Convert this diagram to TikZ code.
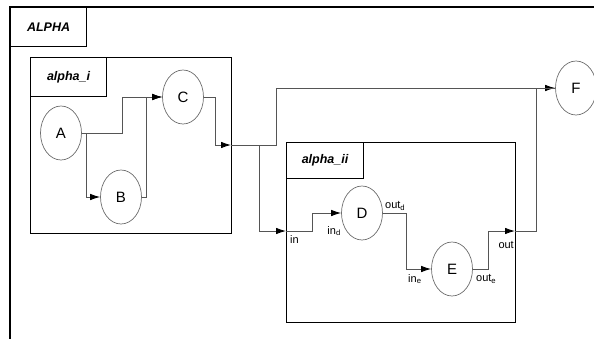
\documentclass[tikz,border=0pt]{standalone}
\usepackage{fontspec}
\setmainfont{Liberation Sans}
\usetikzlibrary{arrows.meta,positioning,calc,shapes.geometric}
\definecolor{WIRE-GREY}{RGB}{85,85,85}
\definecolor{RING-GREY}{RGB}{110,110,110}

\tikzset{
  frame/.style={draw=black, line width=1.1pt, inner sep=0pt},
  title/.style={draw=black, line width=1.1pt, anchor=north west, inner sep=0pt,
    font=\fontsize{12.5}{14}\selectfont\bfseries\itshape},
  proc/.style={ellipse, draw=RING-GREY, line width=0.7pt, fill=white,
    minimum width=41pt, minimum height=54pt, inner sep=0pt,
    font=\fontsize{15}{17}\selectfont},
  wire/.style={WIRE-GREY, line width=0.9pt},
  port/.style={font=\fontsize{11}{13}\selectfont, inner sep=0pt}
}

\begin{document}
\begin{tikzpicture}[x=1pt, y=-1pt, >={Latex[length=10pt, width=6.5pt, color=black]}]
  \useasboundingbox (0,0) rectangle (594,338);
  \clip (0,0) rectangle (594,338);

  % Outer block ALPHA (runs off the page)
  \draw[line width=1.1pt] (10,345) -- (10,7) -- (600,7);
  \node[title, minimum width=76pt, minimum height=39pt] (alphaT) at (10,7) {ALPHA};

  % Block alpha_i
  \node[frame, anchor=north west, minimum width=201pt, minimum height=176pt] (alphaI) at (30,57) {};
  \node[title, minimum width=76pt, minimum height=39pt] (alphaIT) at (alphaI.north west) {alpha\_i};
  \coordinate (iout) at (231,145);

  % Block alpha_ii
  \node[frame, anchor=north west, minimum width=229pt, minimum height=180pt] (alphaII) at (286,142) {};
  \node[title, minimum width=77pt, minimum height=36pt] (alphaIIT) at (alphaII.north west) {alpha\_ii};
  \coordinate (iiin) at (286,231);
  \coordinate (iiout) at (515,231);

  % Processes
  \node[proc] (A) at (61,133) {A};
  \node[proc] (B) at (121,197) {B};
  \node[proc] (C) at (183,97) {C};
  \node[proc] (D) at (362,213) {D};
  \node[proc] (E) at (452,269) {E};
  \node[proc] (F) at (576,88) {F};

  % Wires inside alpha_i
  \draw[wire, ->] (A.east) -- ++(41,0) |- (C.west);
  \draw[wire, ->] (A.east) -- ++(5,0) |- (B.west);
  \draw[wire, ->] (B.east) -- ++(5,0) |- (C.west);
  \draw[wire, ->] (C.east) -- ++(12,0) |- (iout);

  % Wires between the blocks
  \draw[wire, ->] (iout) -- ++(45,0) |- (F.west);
  \draw[wire, ->] (iout) -- ++(28,0) |- (iiin);
  \draw[wire] (iiout) -- ++(21,0) |- (F.west);

  % Wires inside alpha_ii
  \draw[wire, ->] (iiin) -- ++(26,0) |- (D.west);
  \draw[wire, ->] (D.east) -- ++(24,0) |- (E.west);
  \draw[wire, ->] (E.east) -- ++(16,0) |- (iiout);

  % Port labels
  \node[port, anchor=north west] (lin) at (290,235) {in};
  \node[port, anchor=east] (lind) at (341,231) {in\textsubscript{d}};
  \node[port, anchor=west] (loutd) at (385,206) {out\textsubscript{d}};
  \node[port, anchor=west] (line) at (408,279) {in\textsubscript{e}};
  \node[port, anchor=west] (loute) at (476,279) {out\textsubscript{e}};
  \node[port, anchor=east] (lout) at (514,245) {out};
\end{tikzpicture}
\end{document}
